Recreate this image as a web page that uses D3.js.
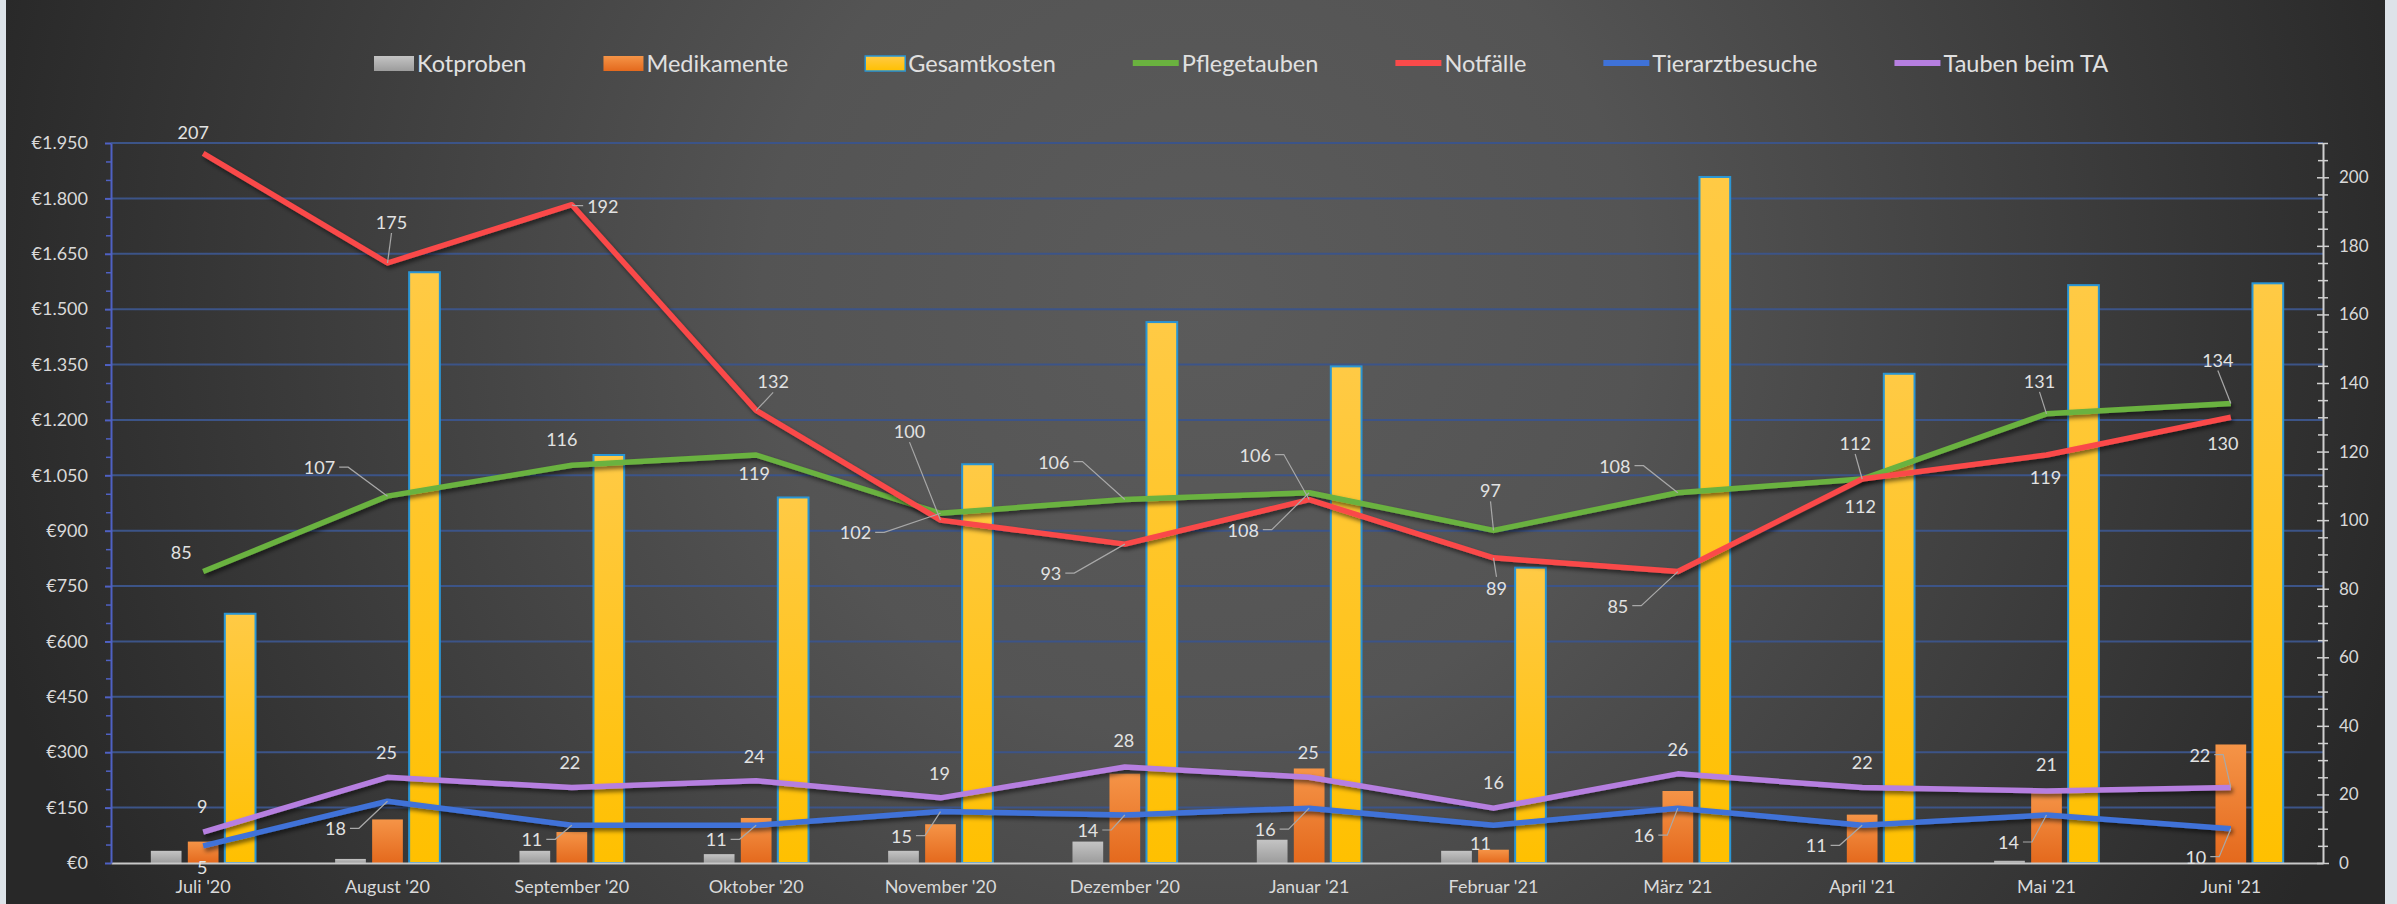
<!DOCTYPE html>
<html>
<head>
<meta charset="utf-8">
<title>Tauben Kosten 2020/21</title>
<style>
body { margin: 0; background: #2b2b2b; overflow: hidden; }
text { font-family: Lato, "Open Sans", sans-serif; }
</style>
</head>
<body>
<script src="https://d3js.org/d3.v7.min.js"></script>
<script>

var months = ["Juli '20", "August '20", "September '20", "Oktober '20", "November '20", "Dezember '20",
              "Januar '21", "Februar '21", "März '21", "April '21", "Mai '21", "Juni '21"];

// bars, left axis (€)
var kotproben    = [33, 11, 33, 24, 33, 58, 63, 33, 0, 0, 6, 0];
var medikamente  = [58, 118, 84, 122, 105, 242, 256, 36, 195, 131, 192, 321];
var gesamtkosten = [675, 1600, 1105, 990, 1080, 1465, 1345, 800, 1858, 1325, 1565, 1570];

// lines, right axis (count)
var pflegetauben    = [85, 107, 116, 119, 102, 106, 108, 97, 108, 112, 131, 134];
var notfaelle       = [207, 175, 192, 132, 100, 93, 106, 89, 85, 112, 119, 130];
var tierarztbesuche = [5, 18, 11, 11, 15, 14, 16, 11, 16, 11, 14, 10];
var taubenBeimTA    = [9, 25, 22, 24, 19, 28, 25, 16, 26, 22, 21, 22];

var euroTicks  = [0, 150, 300, 450, 600, 750, 900, 1050, 1200, 1350, 1500, 1650, 1800, 1950];
var countTicks = [0, 20, 40, 60, 80, 100, 120, 140, 160, 180, 200];

// where each data label sits relative to its point [dx, dy]
var labelOffsets = {
  pflegetauben:    [[-22,-20],[-68,-29],[-10,-26],[-2,18],[-85,19],[-71,-38],[-66,37],[-3,-40],[-63,-27],[-7,-36],[-7,-33],[-13,-44]],
  notfaelle:       [[-10,-21],[4,-41],[31,1],[17,-29],[-31,-89],[-74,29],[-54,-45],[3,30],[-60,34],[-2,27],[-1,22],[-8,26]],
  tierarztbesuche: [[-1,21],[-52,27],[-40,14],[-40,14],[-39,24],[-37,15],[-44,21],[-13,18],[-34,27],[-46,20],[-38,27],[-35,28]],
  taubenBeimTA:    [[-1,-26],[-1,-25],[-2,-26],[-2,-25],[-1,-25],[-1,-27],[-1,-25],[0,-26],[0,-25],[0,-26],[0,-27],[-31,-33]]
};

var W = 2397, H = 904;
var margin = {top: 143, right: 74, bottom: 41, left: 111};
var width = W - margin.left - margin.right;
var height = H - margin.top - margin.bottom;

var svg = d3.select("body").append("svg")
    .attr("width", W)
    .attr("height", H);

var defs = svg.append("defs");

var bg = defs.append("radialGradient").attr("id", "bg")
    .attr("gradientUnits", "userSpaceOnUse")
    .attr("cx", 1200).attr("cy", 300).attr("r", 1250);
bg.append("stop").attr("offset", "0%").attr("stop-color", "#5b5b5b");
bg.append("stop").attr("offset", "35%").attr("stop-color", "#545454");
bg.append("stop").attr("offset", "100%").attr("stop-color", "#282828");

function vgrad(id, top, bottom) {
  var gr = defs.append("linearGradient").attr("id", id)
      .attr("x1", 0).attr("y1", 0).attr("x2", 0).attr("y2", 1);
  gr.append("stop").attr("offset", "0%").attr("stop-color", top);
  gr.append("stop").attr("offset", "100%").attr("stop-color", bottom);
}
vgrad("gGray", "#c4c4c4", "#9c9c9c");
vgrad("gOrange", "#f59447", "#e4691d");
vgrad("gYellow", "#ffca45", "#ffc000");

var shadow = defs.append("filter").attr("id", "shadow")
    .attr("x", "-5%").attr("y", "-20%").attr("width", "110%").attr("height", "140%");
shadow.append("feDropShadow").attr("dx", 2).attr("dy", 3)
    .attr("stdDeviation", 2).attr("flood-color", "#000").attr("flood-opacity", 0.55);

svg.append("rect").attr("width", W).attr("height", H).attr("fill", "url(#bg)");
svg.append("rect").attr("x", 0).attr("width", 6).attr("height", H).attr("fill", "#dde3e9");
svg.append("rect").attr("x", 2385).attr("width", 12).attr("height", H).attr("fill", "#dde3e9");

var g = svg.append("g")
    .attr("transform", "translate(" + margin.left + "," + margin.top + ")");

var x = d3.scaleBand().domain(months).range([0, width]);
var barKeys = ["kot", "med", "ges"];
var x1 = d3.scaleBand().domain(barKeys)
    .range([x.bandwidth() / 2 - 55.5, x.bandwidth() / 2 + 55.5])
    .paddingInner(0.17).paddingOuter(0.085);
var yL = d3.scaleLinear().domain([0, 1950]).range([height, 0]);
var yR = d3.scaleLinear().domain([0, 210]).range([height, 0]);

// grid
g.append("g").selectAll("line")
  .data(euroTicks.filter(function(d) { return d > 0; }))
  .enter().append("line")
    .attr("x1", 0).attr("x2", width)
    .attr("y1", function(d) { return yL(d); })
    .attr("y2", function(d) { return yL(d); })
    .attr("stroke", "#3c5488").attr("stroke-width", 2);

// bars
var barData = months.map(function(m, i) {
  return {month: m, vals: [
    {key: "kot", v: kotproben[i]},
    {key: "med", v: medikamente[i]},
    {key: "ges", v: gesamtkosten[i]}
  ]};
});
var fills = {kot: "url(#gGray)", med: "url(#gOrange)", ges: "url(#gYellow)"};

g.append("g").selectAll("g")
  .data(barData)
  .enter().append("g")
    .attr("transform", function(d) { return "translate(" + x(d.month) + ",0)"; })
  .selectAll("rect")
  .data(function(d) { return d.vals.filter(function(b) { return b.v > 0; }); })
  .enter().append("rect")
    .attr("x", function(b) { return x1(b.key); })
    .attr("width", x1.bandwidth())
    .attr("y", function(b) { return yL(b.v); })
    .attr("height", function(b) { return height - yL(b.v); })
    .attr("fill", function(b) { return fills[b.key]; })
    .attr("stroke", function(b) { return b.key == "ges" ? "#2a95d4" : "none"; })
    .attr("stroke-width", 2);

// axes
var euro = d3.formatLocale({decimal: ",", thousands: ".", grouping: [3], currency: ["€", ""]}).format("$,.0f");

var xAxis = g.append("g")
    .attr("transform", "translate(0," + height + ")")
    .call(d3.axisBottom(x).tickSize(0).tickPadding(17));
xAxis.select(".domain").attr("stroke", "#c8c8c8").attr("stroke-width", 2);
xAxis.selectAll("text").attr("font-size", 18).attr("fill", "#d9d9d9").attr("font-family", "Lato");

var leftMinor = d3.range(0, 1951, 50).filter(function(d) { return d % 150 != 0; });
var lMinor = g.append("g")
    .call(d3.axisLeft(yL).tickValues(leftMinor).tickFormat("").tickSizeInner(5).tickSizeOuter(0));
lMinor.select(".domain").remove();
lMinor.selectAll("line").attr("stroke", "#4f61c4").attr("stroke-width", 1.5);

var leftAxis = g.append("g")
    .call(d3.axisLeft(yL).tickValues(euroTicks).tickFormat(euro).tickSizeInner(6).tickSizeOuter(0).tickPadding(17));
leftAxis.select(".domain").attr("stroke", "#4f61c4").attr("stroke-width", 2);
leftAxis.selectAll(".tick line").attr("stroke", "#4f61c4").attr("stroke-width", 2);
leftAxis.selectAll("text").attr("font-size", 18).attr("fill", "#d9d9d9").attr("font-family", "Lato");

var rightMinor = d3.range(0, 211, 5).filter(function(d) { return d % 20 != 0; });
var rMinor = g.append("g")
    .attr("transform", "translate(" + width + ",0)")
    .call(d3.axisRight(yR).tickValues(rightMinor).tickFormat("").tickSizeInner(5).tickSizeOuter(0));
rMinor.select(".domain").remove();
rMinor.selectAll("line").attr("x1", -5).attr("stroke", "#d0d0d0").attr("stroke-width", 1.5);

var rightAxis = g.append("g")
    .attr("transform", "translate(" + width + ",0)")
    .call(d3.axisRight(yR).tickValues(countTicks).tickSizeInner(6).tickSizeOuter(0).tickPadding(10));
rightAxis.select(".domain").attr("stroke", "#d0d0d0").attr("stroke-width", 2);
rightAxis.selectAll(".tick line").attr("x1", -6).attr("stroke", "#d0d0d0").attr("stroke-width", 1.5);
rightAxis.selectAll("text").attr("font-size", 17).attr("fill", "#d9d9d9").attr("font-family", "Lato");

// lines
var cx = function(i) { return x(months[i]) + x.bandwidth() / 2; };
var series = [
  {key: "pflegetauben",    values: pflegetauben,    color: "#6ab23f"},
  {key: "notfaelle",       values: notfaelle,       color: "#fa4a4a"},
  {key: "tierarztbesuche", values: tierarztbesuche, color: "#3f72d8"},
  {key: "taubenBeimTA",    values: taubenBeimTA,    color: "#b67fe0"}
];

var valueline = d3.line()
    .x(function(d, i) { return cx(i); })
    .y(function(d) { return yR(d); });

series.forEach(function(s) {
  g.append("path")
    .datum(s.values)
    .attr("fill", "none")
    .attr("stroke", s.color)
    .attr("stroke-width", 5.5)
    .attr("stroke-linejoin", "round")
    .attr("filter", "url(#shadow)")
    .attr("d", valueline);
});

// data labels + leader lines
var labels = g.append("g");
series.forEach(function(s) {
  s.values.forEach(function(v, i) {
    var off = labelOffsets[s.key][i];
    var px = cx(i), py = yR(v);
    var lx = px + off[0], ly = py + off[1];
    var t = labels.append("text")
        .attr("x", lx).attr("y", ly)
        .attr("text-anchor", "middle")
        .attr("dominant-baseline", "central")
        .attr("font-size", 18)
        .attr("fill", "#e2e2e2")
        .text(v);
    var dist = Math.sqrt(off[0] * off[0] + off[1] * off[1]);
    if (dist < 30) return;
    var w = t.node().getComputedTextLength();
    var pts;
    if (Math.abs(off[0]) > 30 && Math.abs(off[0]) > 0.6 * Math.abs(off[1])) {
      var side = off[0] < 0 ? 1 : -1;
      var sx = lx + side * (w / 2 + 4);
      pts = [[sx, ly], [sx + side * 9, ly], [px, py]];
    } else {
      var sy = ly + (off[1] < 0 ? 11 : -11);
      pts = [[lx, sy], [px, py]];
    }
    labels.append("path")
      .attr("d", d3.line()(pts))
      .attr("fill", "none")
      .attr("stroke", "#a8a8a8")
      .attr("stroke-width", 1.2);
  });
});

// legend
var legendItems = [
  {name: "Kotproben", type: "bar", fill: "url(#gGray)"},
  {name: "Medikamente", type: "bar", fill: "url(#gOrange)"},
  {name: "Gesamtkosten", type: "bar", fill: "url(#gYellow)", stroke: "#2a95d4"},
  {name: "Pflegetauben", type: "line", fill: "#6ab23f"},
  {name: "Notfälle", type: "line", fill: "#fa4a4a"},
  {name: "Tierarztbesuche", type: "line", fill: "#3f72d8"},
  {name: "Tauben beim TA", type: "line", fill: "#b67fe0"}
];
var legend = svg.append("g");
var lxPos = 374;
legendItems.forEach(function(it) {
  var sw;
  if (it.type == "bar") {
    sw = 40;
    legend.append("rect")
      .attr("x", lxPos).attr("y", 56).attr("width", sw).attr("height", 15)
      .attr("fill", it.fill)
      .attr("stroke", it.stroke || "none").attr("stroke-width", 1.5);
  } else {
    sw = 46;
    legend.append("line")
      .attr("x1", lxPos).attr("x2", lxPos + sw).attr("y1", 63).attr("y2", 63)
      .attr("stroke", it.fill).attr("stroke-width", 6);
  }
  var t = legend.append("text")
      .attr("x", lxPos + sw + 3).attr("y", 63)
      .attr("dominant-baseline", "central")
      .attr("font-size", 23.5)
      .attr("fill", "#e0e0e0")
      .text(it.name);
  lxPos = lxPos + sw + 3 + t.node().getComputedTextLength() + 77;
});

</script>
</body>
</html>
